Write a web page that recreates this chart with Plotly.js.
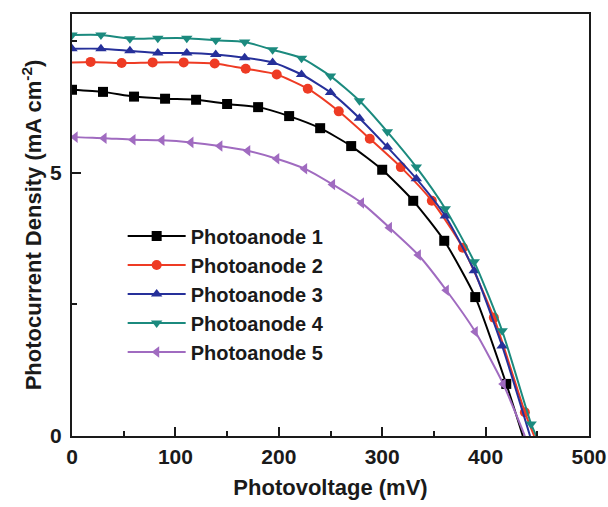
<!DOCTYPE html>
<html>
<head>
<meta charset="utf-8">
<script src="https://cdn.plot.ly/plotly-3.0.1.min.js"></script>
<style>html,body{margin:0;padding:0;background:#fff;}#chart{width:608px;height:507px;}</style>
</head>
<body>
<div id="chart"></div>
<script>
// Series names
const seriesNames = ["Photoanode 1", "Photoanode 2", "Photoanode 3", "Photoanode 4", "Photoanode 5"];

// Photoanode 1 (markers)
const p1X = [0, 30, 60, 90, 120, 150, 180, 210, 240, 270, 300, 330, 360, 390, 420];
const p1Y = [6.58, 6.54, 6.45, 6.41, 6.39, 6.31, 6.25, 6.08, 5.85, 5.51, 5.06, 4.47, 3.71, 2.64, 0.99];
// Photoanode 2
const p2X = [18, 48, 78, 108, 138, 168, 198, 228, 258, 288, 318, 348, 378, 408, 438];
const p2Y = [7.11, 7.09, 7.10, 7.10, 7.08, 6.98, 6.87, 6.60, 6.17, 5.65, 5.11, 4.47, 3.58, 2.25, 0.45];
// Photoanode 3
const p3X = [0, 28, 56, 83, 111, 139, 167, 194, 222, 250, 278, 305, 333, 361, 389, 416];
const p3Y = [7.36, 7.36, 7.32, 7.28, 7.28, 7.25, 7.19, 7.10, 6.87, 6.53, 6.04, 5.49, 4.89, 4.18, 3.14, 1.71];
// Photoanode 4
const p4X = [0, 28, 56, 83, 111, 139, 167, 194, 222, 250, 278, 305, 333, 361, 389, 416, 444];
const p4Y = [7.62, 7.62, 7.55, 7.56, 7.56, 7.52, 7.49, 7.34, 7.18, 6.84, 6.37, 5.78, 5.11, 4.32, 3.31, 2.00, 0.23];
// Photoanode 5
const p5X = [3, 31, 59, 87, 115, 143, 170, 198, 225, 252, 280, 307, 335, 362, 390, 417];
const p5Y = [5.68, 5.66, 5.63, 5.62, 5.58, 5.51, 5.42, 5.27, 5.08, 4.78, 4.43, 3.96, 3.44, 2.77, 1.98, 0.99];

// Line start (x=0) current and open-circuit voltage (y=0) for each series
const startY = [6.58, 7.10, 7.36, 7.62, 5.69];
const vocX = [436, 447, 443, 449, 438];

// Axis tick labels
const xTicks = [0, 100, 200, 300, 400, 500];
const yTicks = [0, 5];

const colors = ["#000000", "#EE3B24", "#26309A", "#1B8A7E", "#A06BC0"];
const symbols = ["square", "circle", "triangle-up", "triangle-down", "triangle-left"];
const markerXs = [p1X, p2X, p3X, p4X, p5X];
const markerYs = [p1Y, p2Y, p3Y, p4Y, p5Y];

const FONT = "Liberation Sans, Arial, sans-serif";
const traces = [];
for (let i = 0; i < 5; i++) {
  const lx = [], ly = [];
  if (markerXs[i][0] > 0) { lx.push(0); ly.push(startY[i]); }
  markerXs[i].forEach((v, k) => { lx.push(v); ly.push(markerYs[i][k]); });
  lx.push(vocX[i]); ly.push(0);
  traces.push({
    x: lx, y: ly, mode: "lines", type: "scatter",
    line: {color: colors[i], width: 2, shape: "spline", smoothing: 0.6},
    showlegend: false, hoverinfo: "skip", legendgroup: "g" + i
  });
  traces.push({
    x: markerXs[i], y: markerYs[i], mode: "markers", type: "scatter",
    marker: {color: colors[i], symbol: symbols[i], size: 10},
    showlegend: false, legendgroup: "g" + i
  });
}
for (let i = 0; i < 5; i++) {
  traces.push({
    x: [null], y: [null], mode: "lines+markers", type: "scatter", name: seriesNames[i],
    line: {color: colors[i], width: 2},
    marker: {color: colors[i], symbol: symbols[i], size: 10},
    legendgroup: "g" + i
  });
}

const layout = {
  width: 608, height: 507,
  margin: {l: 72, r: 19, t: 14, b: 71},
  paper_bgcolor: "#ffffff", plot_bgcolor: "#ffffff",
  font: {family: FONT, color: "#1a1a1a", size: 20},
  showlegend: true,
  legend: {
    x: 0.098, y: 0.52, xanchor: "left", yanchor: "top",
    bgcolor: "rgba(0,0,0,0)", borderwidth: 0,
    font: {family: FONT, size: 20, weight: "bold", color: "#1a1a1a"},
    itemwidth: 58, tracegroupgap: 0
  },
  xaxis: {
    range: [0, 500], tickvals: xTicks, ticktext: xTicks.map(String),
    ticks: "inside", ticklen: 9, tickwidth: 2, tickcolor: "#1a1a1a",
    minor: {ticks: "inside", tickvals: [50, 150, 250, 350, 450], ticklen: 5, tickwidth: 2, tickcolor: "#1a1a1a"},
    showline: true, linewidth: 2, linecolor: "#1a1a1a", mirror: true,
    showgrid: false, zeroline: false, ticklabelstandoff: 1,
    tickfont: {family: FONT, size: 21, weight: "bold", color: "#1a1a1a"},
    title: {text: "Photovoltage (mV)", standoff: 12, font: {family: FONT, size: 22, weight: "bold", color: "#1a1a1a"}}
  },
  yaxis: {
    range: [0, 8.02], tickvals: yTicks, ticktext: yTicks.map(String),
    ticks: "inside", ticklen: 9, tickwidth: 2, tickcolor: "#1a1a1a",
    minor: {ticks: "inside", tickvals: [2.5, 7.5], ticklen: 5, tickwidth: 2, tickcolor: "#1a1a1a"},
    showline: true, linewidth: 2, linecolor: "#1a1a1a", mirror: true,
    showgrid: false, zeroline: false, ticklabelstandoff: 4,
    tickfont: {family: FONT, size: 21, weight: "bold", color: "#1a1a1a"},
    title: {text: "Photocurrent Density (mA cm<sup>-2</sup>)", standoff: 2, font: {family: FONT, size: 22, weight: "bold", color: "#1a1a1a"}}
  }
};

Plotly.newPlot("chart", traces, layout, {displayModeBar: false, staticPlot: true});
</script>
</body>
</html>
